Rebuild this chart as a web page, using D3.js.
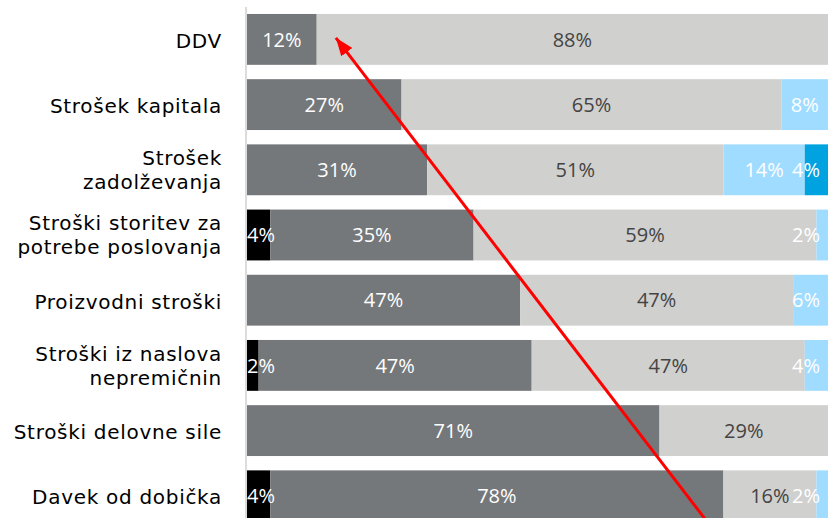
<!DOCTYPE html>
<html>
<head>
<meta charset="utf-8">
<script src="https://cdn.jsdelivr.net/npm/d3@7"></script>
<style>
  body { margin: 0; background: #fff; }
  svg { display: block; }
</style>
</head>
<body>
<div id="chart"></div>
<script>
// categories (top to bottom), "\n" marks a line break in the label
var categories = [
    "DDV",
    "Strošek kapitala",
    "Strošek\nzadolževanja",
    "Stroški storitev za\npotrebe poslovanja",
    "Proizvodni stroški",
    "Stroški iz naslova\nnepremičnin",
    "Stroški delovne sile",
    "Davek od dobička"
];

// shares in %, one array per stacked series (left to right)
var seriesKeys = ["black", "dark", "light", "lightBlue", "blue"];
var black     = [0, 0, 0, 4, 0, 2, 0, 4];
var dark      = [12, 26.6, 31, 35, 47, 47, 71, 78];
var light     = [88, 65.4, 51, 59, 47, 47, 29, 16];
var lightBlue = [0, 8, 14, 2, 6, 4, 0, 2];
var blue      = [0, 0, 4, 0, 0, 0, 0, 0];

// red arrow annotation, in data terms
var arrowFrom = {value: 78.8, category: "Davek od dobička", at: 0.95};
var arrowTo   = {value: 15.3, category: "DDV", at: 0.47};

var colors = {black: "#000000", dark: "#75787b", light: "#d0d0ce", lightBlue: "#a0dcff", blue: "#00a3e0"};
var textColors = {black: "#ffffff", dark: "#ffffff", light: "#444444", lightBlue: "#ffffff", blue: "#ffffff"};

var width = 829, height = 518,
    margin = {left: 247, right: 1};

var rows = categories.map(function(c, i) {
    return {cat: c, black: black[i], dark: dark[i], light: light[i], lightBlue: lightBlue[i], blue: blue[i]};
});

var svg = d3.select("#chart").append("svg")
    .attr("width", width)
    .attr("height", height);

var x = d3.scaleLinear()
    .domain([0, 100])
    .range([margin.left, width - margin.right]);

var y = d3.scaleBand()
    .domain(categories)
    .range([6.8, 528.4])
    .paddingInner(0.22)
    .paddingOuter(0.11);

var stack = d3.stack().keys(seriesKeys)(rows);

// vertical axis line
svg.append("line")
    .attr("x1", x(0) - 1).attr("x2", x(0) - 1)
    .attr("y1", 7).attr("y2", height)
    .attr("stroke", "#dcdcdc")
    .attr("stroke-width", 2);

// bars
var layer = svg.selectAll(".layer")
    .data(stack)
  .enter().append("g")
    .attr("class", "layer")
    .attr("fill", function(d) { return colors[d.key]; });

layer.selectAll("rect")
    .data(function(d) { return d; })
  .enter().append("rect")
    .attr("x", function(d) { return x(d[0]); })
    .attr("y", function(d) { return y(d.data.cat); })
    .attr("width", function(d) { return x(d[1]) - x(d[0]); })
    .attr("height", y.bandwidth());

// value labels, kept inside the plot at both ends
var maxX = 820, minX = x(0);
stack.forEach(function(s) {
    s.forEach(function(d) {
        var v = d[1] - d[0];
        if (v <= 0) return;
        var t = svg.append("text")
            .attr("y", y(d.data.cat) + y.bandwidth() / 2)
            .attr("dy", "0.36em")
            .attr("text-anchor", "middle")
            .style("font", "20px 'Open Sans', sans-serif")
            .attr("fill", textColors[s.key])
            .text(Math.round(v) + "%");
        var w = t.node().getComputedTextLength();
        var cx = (x(d[0]) + x(d[1])) / 2;
        cx = Math.min(cx, maxX - w / 2);
        cx = Math.max(cx, minX + w / 2);
        t.attr("x", cx);
    });
});

// category labels
categories.forEach(function(c) {
    var lines = c.split("\n");
    var t = svg.append("text")
        .attr("text-anchor", "end")
        .style("font", "20px 'DejaVu Sans', Verdana, sans-serif")
        .style("letter-spacing", "0.7px")
        .attr("fill", "#000");
    lines.forEach(function(l, i) {
        t.append("tspan")
            .attr("x", 222)
            .attr("y", y(c) + y.bandwidth() / 2 + (i - (lines.length - 1) / 2) * 24)
            .attr("dy", lines.length > 1 ? "0.36em" : "0.42em")
            .text(l);
    });
});

// red arrow
svg.append("defs").append("marker")
    .attr("id", "head")
    .attr("markerUnits", "userSpaceOnUse")
    .attr("viewBox", "0 0 18 14")
    .attr("refX", 18).attr("refY", 7)
    .attr("markerWidth", 18).attr("markerHeight", 14)
    .attr("orient", "auto")
  .append("path")
    .attr("d", "M0,0L18,7L0,14Z")
    .attr("fill", "#ff0000");

svg.append("line")
    .attr("x1", x(arrowFrom.value))
    .attr("y1", y(arrowFrom.category) + y.bandwidth() * arrowFrom.at)
    .attr("x2", x(arrowTo.value))
    .attr("y2", y(arrowTo.category) + y.bandwidth() * arrowTo.at)
    .attr("stroke", "#ff0000")
    .attr("stroke-width", 3)
    .attr("marker-end", "url(#head)");
</script>
</body>
</html>
